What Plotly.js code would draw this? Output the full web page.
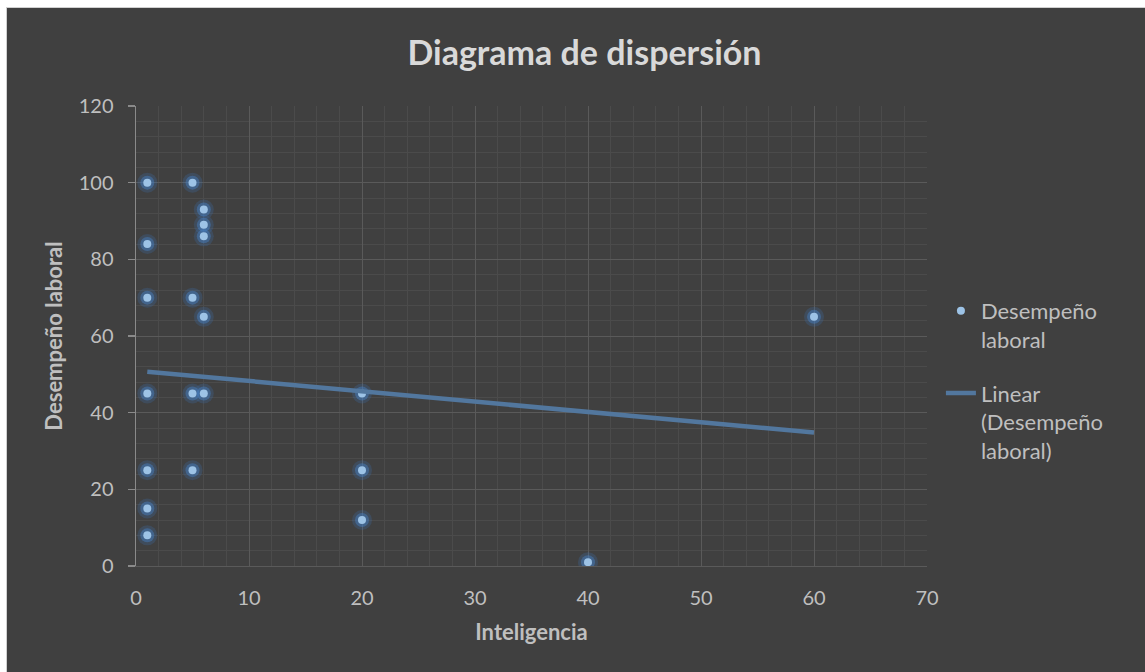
<!DOCTYPE html>
<html>
<head>
<meta charset="utf-8">
<script src="https://cdn.plot.ly/plotly-3.0.1.min.js"></script>
<style>
  html, body { margin: 0; padding: 0; background: #ffffff; width: 1145px; height: 672px; overflow: hidden; }
  #chart { position: absolute; left: 6px; top: 7px; width: 1139px; height: 665px;
           box-sizing: border-box; border-left: 1px solid #d0d0d0; border-top: 1px solid #d0d0d0; background: #404040; }
</style>
</head>
<body>
<div id="chart"></div>
<script>
// Data
const inteligencia = [1, 1, 1, 1, 1, 1, 1, 5, 5, 5, 5, 6, 6, 6, 6, 6, 20, 20, 20, 40, 60];
const desempeno    = [100, 84, 70, 45, 25, 15, 8, 100, 70, 45, 25, 93, 89, 86, 65, 45, 45, 25, 12, 1, 65];
// Linear trendline end points as drawn in the reference
const trendX = [1, 60];
const trendY = [50.7, 34.8];

const xTicks = [0, 10, 20, 30, 40, 50, 60, 70];
const yTicks = [0, 20, 40, 60, 80, 100, 120];

const FONT = 'Lato, "Open Sans", sans-serif';

const glowOuter = {
  x: inteligencia, y: desempeno, type: 'scatter', mode: 'markers',
  marker: { size: 20, color: 'rgba(60,120,190,0.22)', line: { width: 0 } },
  showlegend: false, hoverinfo: 'skip'
};
const glowInner = {
  x: inteligencia, y: desempeno, type: 'scatter', mode: 'markers',
  marker: { size: 14, color: 'rgba(70,130,200,0.45)', line: { width: 0 } },
  showlegend: false, hoverinfo: 'skip'
};
const pts = {
  x: inteligencia, y: desempeno, type: 'scatter', mode: 'markers',
  name: 'Desempeño<br>laboral', legendgroup: 'a',
  marker: { size: 8, color: '#9dc3e6', line: { width: 0 } }
};
const trend = {
  x: trendX, y: trendY, type: 'scatter', mode: 'lines',
  name: 'Linear<br>(Desempeño<br>laboral)', legendgroup: 'b',
  line: { color: '#52779e', width: 4.5 }
};

const layout = {
  width: 1139, height: 665,
  paper_bgcolor: '#404040', plot_bgcolor: '#404040',
  margin: { l: 129, r: 219, t: 98, b: 107 },
  font: { family: FONT, color: '#bfbfbf', size: 20 },
  title: {
    text: '<b>Diagrama de dispersión</b>', xref: 'container', yref: 'container',
    x: 0.507, y: 0.932, xanchor: 'center', yanchor: 'middle',
    font: { family: FONT, size: 34, color: '#d9d9d9' }
  },
  xaxis: {
    range: [0, 70], tickvals: xTicks, ticktext: xTicks.map(String),
    showgrid: true, gridcolor: '#5a5a5a', gridwidth: 1,
    minor: { dtick: 2, showgrid: true, gridcolor: '#4b4b4b', gridwidth: 1 },
    zeroline: false, showline: true, linecolor: '#5a5a5a', linewidth: 1,
    ticks: '', ticklabelstandoff: 14,
    tickfont: { family: FONT, size: 20, color: '#bfbfbf' },
    title: { text: '<b>Inteligencia</b>', standoff: 16, font: { family: FONT, size: 22, color: '#bfbfbf' } },
    fixedrange: true
  },
  yaxis: {
    range: [0, 120], tickvals: yTicks, ticktext: yTicks.map(String),
    showgrid: true, gridcolor: '#5a5a5a', gridwidth: 1,
    minor: { dtick: 4, showgrid: true, gridcolor: '#4b4b4b', gridwidth: 1 },
    zeroline: false, showline: true, linecolor: '#8a8a8a', linewidth: 1.5,
    ticks: 'outside', ticklen: 7, tickcolor: '#8a8a8a', tickwidth: 1.5, ticklabelstandoff: 10,
    tickfont: { family: FONT, size: 20, color: '#bfbfbf' },
    title: { text: '<b>Desempeño laboral</b>', standoff: 10, font: { family: FONT, size: 22, color: '#bfbfbf' } },
    fixedrange: true
  },
  showlegend: true,
  legend: {
    x: 1.0176, xanchor: 'left', y: 0.60, yanchor: 'top',
    bgcolor: 'rgba(0,0,0,0)', valign: 'top', tracegroupgap: 22,
    font: { family: FONT, size: 22, color: '#bfbfbf' }
  }
};

Plotly.newPlot('chart', [glowOuter, glowInner, pts, trend], layout, { displayModeBar: false, staticPlot: true });
</script>
</body>
</html>
